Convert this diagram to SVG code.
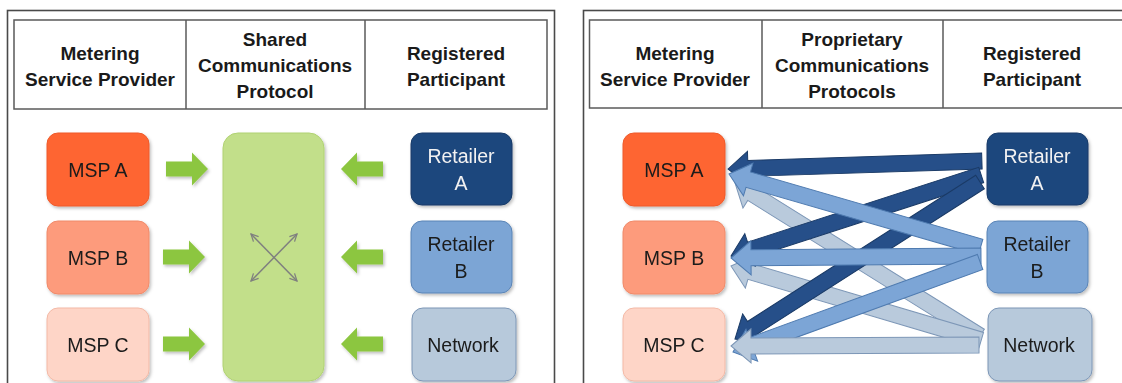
<svg xmlns="http://www.w3.org/2000/svg" width="1122" height="383" viewBox="0 0 1122 383">
<style>
.frame{fill:none;stroke:#4a4a4a;stroke-width:1.6}
.tbl{fill:#fff;stroke:#5a5a5a;stroke-width:1.5}
.div{stroke:#5a5a5a;stroke-width:1.5}
.ht{font-family:"Liberation Sans",Arial,sans-serif;font-weight:bold;font-size:19px;text-anchor:middle;fill:#1a1a1a}
.nt{font-family:"Liberation Sans",Arial,sans-serif;font-size:19.5px;text-anchor:middle;fill:#1a1a1a}
.wt{fill:#f2f2f2}
.mspa{fill:#fe6532;stroke:#ee5a2a;stroke-width:1}
.mspb{fill:#fd9b7b;stroke:#f08a6a;stroke-width:1}
.mspc{fill:#fed5c7;stroke:#f3b9a6;stroke-width:1}
.reta{fill:#1f477d;stroke:#173a68;stroke-width:1}
.retb{fill:#7ba5d5;stroke:#5a84b6;stroke-width:1}
.net{fill:#b7c9db;stroke:#7c96b6;stroke-width:1}
.gblock{fill:#c2df8a;stroke:#b0d273;stroke-width:1}
.garrow{fill:#8cc63f}
.x{stroke:#7f7f7f;stroke-width:1.5;fill:none}
.ad{fill:#264f89;stroke:#1a3a66;stroke-width:1}
.am{fill:#7ca5d6;stroke:#4f7bb0;stroke-width:1}
.ag{fill:#b9cadc;stroke:#7d97b7;stroke-width:1}
</style>
<defs>
<filter id="sh" x="-10%" y="-10%" width="130%" height="130%">
<feDropShadow dx="1.5" dy="2" stdDeviation="1.5" flood-color="#000" flood-opacity="0.25"/>
</filter>
<path id="ga" d="M0,-7.5 H26 V-16.5 L42,0 L26,16.5 V7.5 H0 Z"/>
<marker id="xh" viewBox="0 0 10 10" refX="9" refY="5" markerWidth="9" markerHeight="9" orient="auto-start-reverse" markerUnits="userSpaceOnUse">
<path d="M1,1 L9,5 L1,9" fill="none" stroke="#7f7f7f" stroke-width="1.4"/>
</marker>
</defs>
<rect width="1122" height="383" fill="#fff"/>

<!-- LEFT PANEL -->
<g id="left-panel">
<rect class="frame" x="7.5" y="10.5" width="547" height="400"/>
<g id="left-header">
<rect class="tbl" x="14" y="20" width="533" height="89"/>
<line class="div" x1="186" y1="20" x2="186" y2="109"/>
<line class="div" x1="365" y1="20" x2="365" y2="109"/>
<text class="ht" x="100" y="60">Metering</text>
<text class="ht" x="100" y="86">Service Provider</text>
<text class="ht" x="275" y="46">Shared</text>
<text class="ht" x="275" y="72">Communications</text>
<text class="ht" x="275" y="98">Protocol</text>
<text class="ht" x="456" y="60">Registered</text>
<text class="ht" x="456" y="86">Participant</text>
</g>
</g>

<g id="l-msp-a" filter="url(#sh)"><rect class="mspa" x="47" y="133" width="102" height="73" rx="11"/><text class="nt" x="98" y="177">MSP A</text></g>
<g id="l-msp-b" filter="url(#sh)"><rect class="mspb" x="47" y="221" width="102" height="73" rx="11"/><text class="nt" x="98" y="265">MSP B</text></g>
<g id="l-msp-c" filter="url(#sh)"><rect class="mspc" x="47" y="308" width="102" height="73" rx="11"/><text class="nt" x="98" y="352">MSP C</text></g>
<g id="l-shared" filter="url(#sh)"><rect class="gblock" x="223" y="133" width="101" height="248" rx="15"/></g>
<g id="l-ret-a" filter="url(#sh)"><rect class="reta" x="411" y="133" width="101" height="72" rx="11"/><text class="nt wt" x="461" y="163">Retailer</text><text class="nt wt" x="461" y="190">A</text></g>
<g id="l-ret-b" filter="url(#sh)"><rect class="retb" x="411" y="221" width="101" height="72" rx="11"/><text class="nt" x="461" y="251">Retailer</text><text class="nt" x="461" y="278">B</text></g>
<g id="l-network" filter="url(#sh)"><rect class="net" x="412" y="308" width="104" height="73" rx="11"/><text class="nt" x="463" y="352">Network</text></g>

<g id="left-connectors">
<g class="garrow" filter="url(#sh)">
<use href="#ga" transform="translate(166,169)"/>
<use href="#ga" transform="translate(163,257)"/>
<use href="#ga" transform="translate(163,344)"/>
<use href="#ga" transform="translate(383,169) scale(-1,1)"/>
<use href="#ga" transform="translate(383,257) scale(-1,1)"/>
<use href="#ga" transform="translate(383,344) scale(-1,1)"/>
</g>
<line class="x" x1="251" y1="234" x2="297" y2="281" marker-start="url(#xh)" marker-end="url(#xh)"/>
<line class="x" x1="297" y1="234" x2="251" y2="281" marker-start="url(#xh)" marker-end="url(#xh)"/>
</g>

<!-- RIGHT PANEL -->
<g id="right-panel">
<rect class="frame" x="583.5" y="10.5" width="600" height="400"/>
<g id="right-header">
<rect class="tbl" x="589.5" y="20" width="600" height="88"/>
<line class="div" x1="762" y1="20" x2="762" y2="108"/>
<line class="div" x1="943" y1="20" x2="943" y2="108"/>
<text class="ht" x="675" y="60">Metering</text>
<text class="ht" x="675" y="86">Service Provider</text>
<text class="ht" x="852" y="46">Proprietary</text>
<text class="ht" x="852" y="72">Communications</text>
<text class="ht" x="852" y="98">Protocols</text>
<text class="ht" x="1032" y="60">Registered</text>
<text class="ht" x="1032" y="86">Participant</text>
</g>
</g>

<g id="r-msp-a" filter="url(#sh)"><rect class="mspa" x="623" y="133" width="102" height="73" rx="11"/><text class="nt" x="674" y="177">MSP A</text></g>
<g id="r-msp-b" filter="url(#sh)"><rect class="mspb" x="623" y="221" width="102" height="73" rx="11"/><text class="nt" x="674" y="265">MSP B</text></g>
<g id="r-msp-c" filter="url(#sh)"><rect class="mspc" x="623" y="308" width="102" height="73" rx="11"/><text class="nt" x="674" y="352">MSP C</text></g>
<g id="r-ret-a" filter="url(#sh)"><rect class="reta" x="987" y="133" width="101" height="72" rx="11"/><text class="nt wt" x="1037" y="163">Retailer</text><text class="nt wt" x="1037" y="190">A</text></g>
<g id="r-ret-b" filter="url(#sh)"><rect class="retb" x="987" y="221" width="101" height="72" rx="11"/><text class="nt" x="1037" y="251">Retailer</text><text class="nt" x="1037" y="278">B</text></g>
<g id="r-network" filter="url(#sh)"><rect class="net" x="988" y="308" width="104" height="73" rx="11"/><text class="nt" x="1039" y="352">Network</text></g>

<g id="right-connectors">
<path class="ag" transform="translate(735,183) rotate(31.98)" d="M0,0 L20,-17 L20,-8 L289,-8 L289,8 L20,8 L20,17 Z"/>
<path class="ag" transform="translate(731,266) rotate(16.49)" d="M0,0 L20,-17 L20,-8 L261,-8 L261,8 L20,8 L20,17 Z"/>
<path class="ad" transform="translate(728,169) rotate(-1.8)" d="M0,0 L20,-17 L20,-8 L254,-8 L254,8 L20,8 L20,17 Z"/>
<path class="ad" transform="translate(731,256) rotate(-17.95)" d="M0,0 L20,-17 L20,-8 L263,-8 L263,8 L20,8 L20,17 Z"/>
<path class="ad" transform="translate(735,339) rotate(-32.65)" d="M0,0 L20,-17 L20,-8 L291,-8 L291,8 L20,8 L20,17 Z"/>
<path class="am" transform="translate(729,174) rotate(16.16)" d="M0,0 L20,-17 L20,-8 L262,-8 L262,8 L20,8 L20,17 Z"/>
<path class="am" transform="translate(731,258) rotate(-0.46)" d="M0,0 L20,-17 L20,-8 L250,-8 L250,8 L20,8 L20,17 Z"/>
<path class="am" transform="translate(733,352) rotate(-20.02)" d="M0,0 L20,-17 L20,-8 L263,-8 L263,8 L20,8 L20,17 Z"/>
<path class="ag" transform="translate(731,346) rotate(-0.23)" d="M0,0 L20,-17 L20,-8 L248,-8 L248,8 L20,8 L20,17 Z"/>
</g>
</svg>
